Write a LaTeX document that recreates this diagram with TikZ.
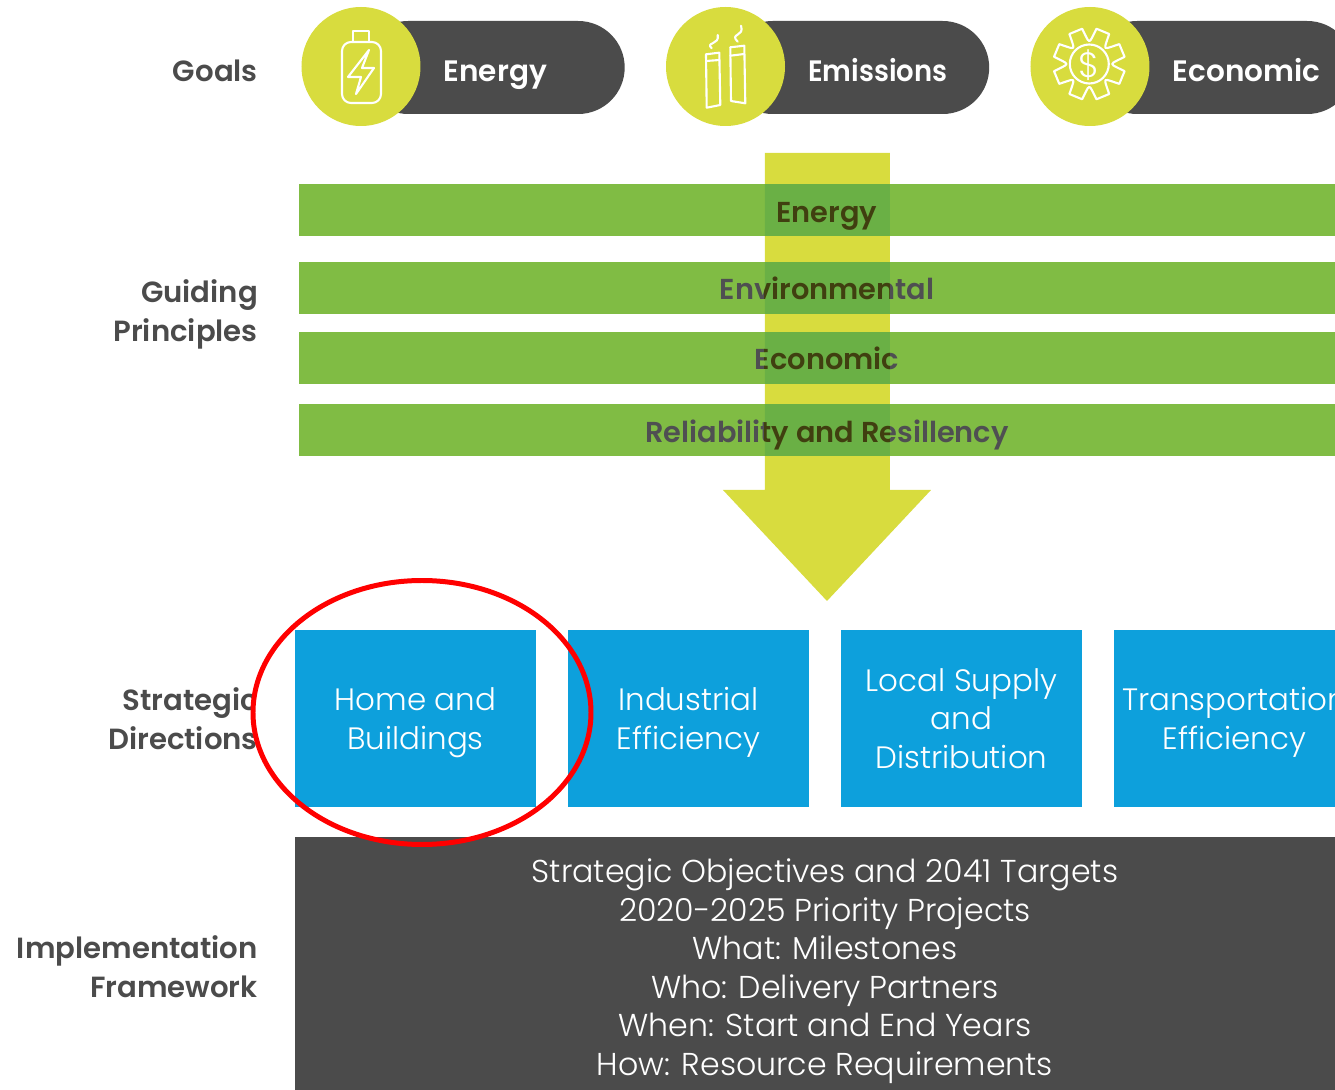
\documentclass[tikz,border=0pt]{standalone}
\usepackage{fontspec}
\setmainfont{Poppins}
\newfontfamily\labelfont{Poppins SemiBold}
\newfontfamily\thinfont{Poppins Light}
\definecolor{lime}{HTML}{D8DC3E}
\definecolor{bargreen}{HTML}{80BC44}
\definecolor{overgreen}{HTML}{6AB045}
\definecolor{dgrey}{HTML}{4B4B4B}
\definecolor{lgrey}{HTML}{4F4F52}
\definecolor{olive}{HTML}{403F10}
\definecolor{sky}{HTML}{0DA0DC}
\tikzset{
	sidelabel/.style={anchor=south east,align=right,text=dgrey,text depth=0pt,font=\labelfont\fontsize{8.3}{11.1}\selectfont,inner sep=0pt},
	goalpill/.style={anchor=west,fill=dgrey,rounded corners=4.65mm,minimum width=26.3mm,minimum height=9.3mm,inner sep=0pt},
	goaltext/.style={anchor=base west,text=white,font=\labelfont\fontsize{8.4}{11}\selectfont,inner sep=0pt},
	guidebar/.style={fill=bargreen,minimum width=105.6mm,minimum height=5.2mm,inner sep=0pt,text height=3mm,text depth=0.6mm,font=\labelfont\fontsize{8.2}{10}\selectfont},
	dirbox/.style={fill=sky,minimum width=24.1mm,minimum height=17.7mm,inner sep=0pt,align=center,text=white,text depth=0pt,font=\thinfont\fontsize{8.8}{10.95}\selectfont},
	iconline/.style={white,line width=0.6pt,line join=round,line cap=round}
}
\begin{document}
\begin{tikzpicture}
	\useasboundingbox (0,0) rectangle (13.35,10.9);
	\clip (0,0) rectangle (13.35,10.9);
	%left hand labels
	\node[sidelabel] (goals) at (2.585,10.08) {Goals};
	\node[sidelabel] (guiding) at (2.585,7.48) {Guiding\\Principles};
	\node[sidelabel] (strategic) at (2.585,3.40) {Strategic\\Directions};
	\node[sidelabel] (framework) at (2.585,0.92) {Implementation\\Framework};
	%goals
	\foreach \i/\x/\w in {Energy/3.61/1, Emissions/7.255/0.93, Economic/10.90/1}{
		\node[goalpill] (pill\i) at (\x,10.225) {};
		\fill[lime] (\x,10.235) circle (5.95mm);
		\node[goaltext] (text\i) at (\x+0.82,10.09) {\scalebox{\w}[1]{\i}};
	}
	%battery
	\draw[iconline,rounded corners=0.9mm] (3.42,10.48) rectangle (3.81,9.87);
	\draw[iconline] (3.53,10.48) -- (3.53,10.59) -- (3.69,10.59) -- (3.69,10.48);
	\draw[iconline] (3.69,10.40) -- (3.48,10.13) -- (3.61,10.13) -- (3.56,9.96) -- (3.74,10.22) -- (3.62,10.22) -- cycle;
	%chimneys
	\draw[iconline] (7.06,10.357) -- (7.193,10.373) -- (7.203,9.85) -- (7.067,9.823) -- cycle;
	\draw[iconline] (7.06,10.29) -- (7.195,10.30);
	\draw[iconline] (7.303,10.427) -- (7.443,10.443) -- (7.453,9.867) -- (7.31,9.89) -- cycle;
	\draw[iconline] (7.303,10.343) -- (7.443,10.36);
	\draw[iconline] (7.117,10.417) .. controls (7.05,10.48) and (7.2,10.45) .. (7.177,10.55);
	\draw[iconline] (7.377,10.483) .. controls (7.29,10.57) and (7.45,10.53) .. (7.41,10.643);
	%gear
	\foreach \a in {22.5,67.5,...,337.5}
	\draw[iconline,shift={(10.893,10.26)}] (\a-15:0.285) -- (\a-11:0.36) -- (\a+11:0.36) -- (\a+15:0.285) .. controls (\a+22.5:0.21) .. (\a+30:0.285);
	\draw[iconline] (10.893,10.26) circle (1.95mm);
	\node[text=white,font=\thinfont\fontsize{10}{10}\selectfont,inner sep=0pt] (dollar) at (10.893,10.25) {\$};
	%arrow
	\fill[lime] (7.65,9.37) -- (8.90,9.37) -- (8.90,6.00) -- (9.31,6.00) -- (8.27,4.89) -- (7.23,6.00) -- (7.65,6.00) -- cycle;
	\foreach \t/\y/\n in {Energy/8.80/a, Environmental/8.02/b, Economic/7.32/c, Reliability and Resillency/6.60/d}
	\node[guidebar,text=lgrey] (bar\n) at (8.27,\y) {\t};
	%where the arrow lies over the bars
	\begin{scope}
		\clip (7.65,9.37) rectangle (8.90,6.00);
		\foreach \t/\y/\n in {Energy/8.80/a, Environmental/8.02/b, Economic/7.32/c, Reliability and Resillency/6.60/d}
		\node[guidebar,fill=overgreen,text=olive] (over\n) at (8.27,\y) {\t};
	\end{scope}
	%directions
	\fill[white] (4.22,3.775) ellipse [x radius=1.69,y radius=1.32];
	\foreach \t/\x/\n in {Home and\\Buildings/4.155/a, Industrial\\Efficiency/6.885/b, Local Supply\\and\\Distribution/9.615/c, Transportation\\Efficiency/12.345/d}
	\node[dirbox] (dir\n) at (\x,3.715) {\t};
	%framework
	\node[anchor=north west,fill=dgrey,minimum width=105mm,minimum height=26mm,inner sep=0pt] (frame) at (2.94,2.54) {};
	\node[anchor=south,align=center,text=white,text depth=0pt,font=\thinfont\fontsize{9}{10.95}\selectfont,inner sep=0pt] (frametext) at (8.25,0.14) {Strategic Objectives and 2041 Targets\\2020-2025 Priority Projects\\What: Milestones\\Who: Delivery Partners\\When: Start and End Years\\How: Resource Requirements};
	%red ring
	\draw[red,line width=1.42pt] (4.22,3.775) ellipse [x radius=1.69,y radius=1.32];
\end{tikzpicture}
\end{document}
